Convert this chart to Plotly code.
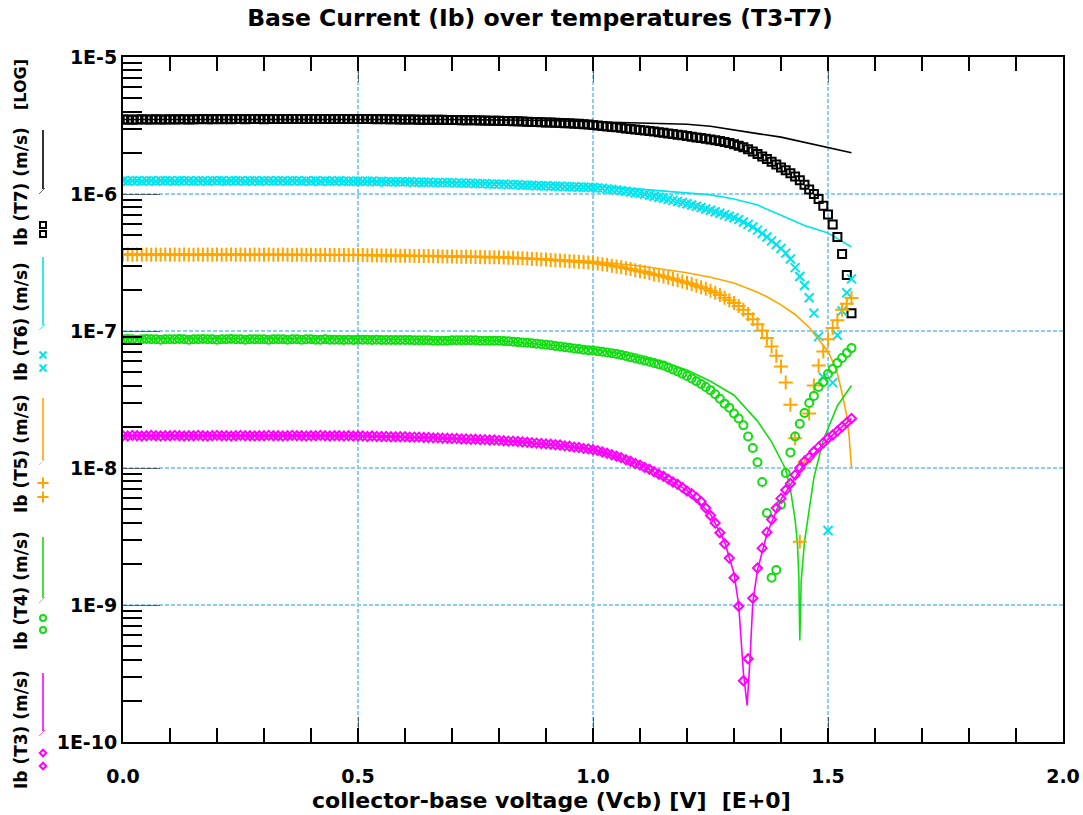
import plotly.graph_objects as go

# ---------------- data (currents in nA) ----------------
vcb = [
    0.00, 0.01, 0.02, 0.03, 0.04, 0.05, 0.06, 0.07, 0.08, 0.09,
    0.10, 0.11, 0.12, 0.13, 0.14, 0.15, 0.16, 0.17, 0.18, 0.19,
    0.20, 0.21, 0.22, 0.23, 0.24, 0.25, 0.26, 0.27, 0.28, 0.29,
    0.30, 0.31, 0.32, 0.33, 0.34, 0.35, 0.36, 0.37, 0.38, 0.39,
    0.40, 0.41, 0.42, 0.43, 0.44, 0.45, 0.46, 0.47, 0.48, 0.49,
    0.50, 0.51, 0.52, 0.53, 0.54, 0.55, 0.56, 0.57, 0.58, 0.59,
    0.60, 0.61, 0.62, 0.63, 0.64, 0.65, 0.66, 0.67, 0.68, 0.69,
    0.70, 0.71, 0.72, 0.73, 0.74, 0.75, 0.76, 0.77, 0.78, 0.79,
    0.80, 0.81, 0.82, 0.83, 0.84, 0.85, 0.86, 0.87, 0.88, 0.89,
    0.90, 0.91, 0.92, 0.93, 0.94, 0.95, 0.96, 0.97, 0.98, 0.99,
    1.00, 1.01, 1.02, 1.03, 1.04, 1.05, 1.06, 1.07, 1.08, 1.09,
    1.10, 1.11, 1.12, 1.13, 1.14, 1.15, 1.16, 1.17, 1.18, 1.19,
    1.20, 1.21, 1.22, 1.23, 1.24, 1.25, 1.26, 1.27, 1.28, 1.29,
    1.30, 1.31, 1.32, 1.33, 1.34, 1.35, 1.36, 1.37, 1.38, 1.39,
    1.40, 1.41, 1.42, 1.43, 1.44, 1.45, 1.46, 1.47, 1.48, 1.49,
    1.50, 1.51, 1.52, 1.53, 1.54, 1.55,
]

ib_t7_meas = [
    3500, 3500, 3490, 3500, 3510, 3500, 3500, 3510, 3500, 3500,
    3510, 3500, 3510, 3510, 3500, 3510, 3510, 3520, 3510, 3510,
    3520, 3510, 3520, 3510, 3520, 3520, 3510, 3520, 3520, 3520,
    3510, 3520, 3520, 3530, 3520, 3520, 3530, 3520, 3520, 3530,
    3520, 3520, 3530, 3520, 3520, 3530, 3520, 3520, 3520, 3530,
    3520, 3520, 3520, 3520, 3510, 3520, 3510, 3510, 3510, 3500,
    3500, 3500, 3500, 3490, 3490, 3490, 3480, 3480, 3480, 3470,
    3470, 3470, 3460, 3460, 3450, 3450, 3440, 3440, 3430, 3430,
    3420, 3410, 3410, 3400, 3390, 3380, 3370, 3360, 3350, 3340,
    3330, 3320, 3310, 3300, 3290, 3280, 3260, 3250, 3230, 3210,
    3190, 3165, 3140, 3115, 3090, 3065, 3040, 3010, 2985, 2960,
    2930, 2905, 2880, 2855, 2825, 2800, 2770, 2740, 2710, 2680,
    2650, 2620, 2590, 2560, 2530, 2500, 2470, 2440, 2400, 2360,
    2310, 2250, 2190, 2120, 2040, 1960, 1880, 1800, 1720, 1640,
    1560, 1490, 1420, 1340, 1260, 1170, 1080, 1000, 920, 820,
    710, 600, 485, 365, 256, 135,
]

ib_t6_meas = [
    1250, 1240, 1250, 1250, 1240, 1250, 1250, 1240, 1250, 1250,
    1250, 1240, 1250, 1250, 1250, 1240, 1250, 1250, 1240, 1250,
    1250, 1250, 1240, 1250, 1250, 1250, 1240, 1250, 1250, 1240,
    1250, 1250, 1240, 1250, 1250, 1240, 1250, 1250, 1240, 1250,
    1240, 1250, 1240, 1250, 1240, 1240, 1250, 1240, 1240, 1240,
    1240, 1240, 1240, 1240, 1230, 1240, 1230, 1230, 1230, 1230,
    1230, 1230, 1220, 1220, 1220, 1220, 1210, 1210, 1210, 1210,
    1210, 1200, 1200, 1200, 1200, 1190, 1190, 1190, 1180, 1180,
    1180, 1180, 1170, 1170, 1170, 1160, 1160, 1160, 1150, 1150,
    1150, 1140, 1140, 1140, 1130, 1130, 1130, 1120, 1120, 1120,
    1115, 1108, 1100, 1090, 1080, 1070, 1058, 1046, 1034, 1022,
    1010, 995, 980, 962, 946, 930, 914, 898, 882, 866,
    850, 832, 814, 796, 778, 760, 742, 724, 706, 688,
    670, 650, 625, 600, 575, 545, 515, 485, 455, 428,
    400, 370, 335, 290, 250, 215, 175, 135, 91, 46,
    3.5, 42, 93, 140, 190, 240,
]

ib_t5_meas = [
    360, 362, 360, 361, 360, 362, 360, 361, 360, 362,
    360, 361, 360, 362, 360, 360, 361, 360, 362, 360,
    361, 360, 360, 362, 360, 361, 360, 360, 361, 360,
    360, 361, 360, 360, 361, 360, 359, 360, 360, 359,
    360, 359, 359, 360, 359, 359, 358, 359, 358, 358,
    358, 358, 357, 357, 356, 356, 356, 355, 355, 354,
    354, 354, 353, 353, 352, 352, 351, 351, 350, 350,
    350, 349, 349, 348, 348, 347, 347, 346, 346, 345,
    345, 344, 343, 342, 340, 339, 338, 336, 335, 333,
    332, 330, 329, 327, 325, 323, 322, 320, 318, 316,
    314, 311, 307, 304, 300, 296, 292, 287, 283, 278,
    273, 269, 264, 259, 255, 250, 245, 240, 235, 230,
    225, 220, 214, 209, 203, 197, 190, 183, 175, 168,
    160, 152, 143, 133, 122, 112, 101, 89, 77, 66,
    55, 42, 29, 16.5, 2.9, 11, 25, 40, 56, 71,
    87, 105, 120, 143, 158, 174,
]

ib_t4_meas = [
    87, 87.5, 87, 86.5, 87, 87.5, 87, 87, 86.5, 87,
    87, 87, 87.5, 87, 86.5, 87, 87, 87.5, 87, 87,
    86.5, 87, 87, 87.5, 87, 87, 86.5, 87, 87, 87,
    87, 86.5, 87, 87, 87, 86.5, 87, 87, 86.5, 87,
    87, 86.5, 86.5, 87, 86.5, 86.5, 86.5, 86, 86.5, 86,
    86.5, 86.5, 86.5, 86, 86.5, 86, 86, 86, 86, 86,
    86, 86, 85.5, 85.5, 85.5, 85.5, 85, 85, 85, 85,
    85.5, 85.5, 85.5, 85.5, 85.5, 85.5, 85, 85, 85, 85,
    85, 84.5, 84, 83.5, 83, 82.5, 82, 81.3, 80.6, 80,
    79.3, 78.6, 77.8, 77, 76.2, 75.4, 74.6, 73.8, 73, 72.5,
    72, 71.3, 70.5, 69.7, 68.9, 68, 66.8, 65.6, 64.4, 63.2,
    62, 60.8, 59.6, 58.4, 57.2, 56, 54.2, 52.4, 50.6, 48.8,
    47, 45, 43, 41, 39, 37, 34.5, 32, 29.5, 27.5,
    25, 23, 20.5, 17, 14, 11, 7.9, 4.7, 1.58, 1.8,
    5.4, 9.2, 13, 17, 21, 25.2, 29.8, 33.6, 39, 42.5,
    48.5, 52.8, 58.4, 63.5, 69, 75,
]

ib_t3_meas = [
    17.2, 17.1, 17.3, 17.2, 17.1, 17.2, 17.3, 17.2, 17.1, 17.2,
    17.2, 17.3, 17.2, 17.1, 17.2, 17.2, 17.3, 17.2, 17.1, 17.2,
    17.3, 17.2, 17.2, 17.1, 17.2, 17.3, 17.2, 17.2, 17.1, 17.2,
    17.2, 17.3, 17.2, 17.2, 17.1, 17.2, 17.3, 17.2, 17.2, 17.1,
    17.2, 17.2, 17.3, 17.2, 17.1, 17.2, 17.2, 17.1, 17.2, 17.1,
    17.1, 17.1, 17.0, 17.1, 17.0, 17.0, 17.0, 16.9, 16.9, 16.9,
    16.9, 16.8, 16.8, 16.8, 16.7, 16.7, 16.6, 16.6, 16.5, 16.5,
    16.4, 16.4, 16.3, 16.3, 16.2, 16.2, 16.1, 16.1, 16.0, 16.0,
    15.9, 15.8, 15.7, 15.7, 15.6, 15.5, 15.4, 15.3, 15.2, 15.1,
    15.0, 14.9, 14.8, 14.7, 14.5, 14.4, 14.2, 14.1, 13.9, 13.8,
    13.6, 13.4, 13.1, 12.8, 12.5, 12.2, 11.9, 11.5, 11.2, 10.8,
    10.5, 10.1, 9.8, 9.4, 9.0, 8.7, 8.3, 7.9, 7.6, 7.2,
    6.8, 6.5, 6.1, 5.7, 5.1, 4.5, 3.97, 3.37, 2.8, 2.2,
    1.58, 0.98, 0.28, 0.405, 1.12, 1.86, 2.6, 3.4, 4.2, 5.1,
    6.0, 6.9, 7.7, 8.9, 10.0, 11.2, 12.0, 13.2, 14.2, 15.3,
    16.5, 17.4, 18.6, 20.0, 21.5, 23.0,
]

# simulated curves (solid lines)
sim_t7_v = [0.0, 0.25, 0.5, 0.7, 0.9, 1.0, 1.1, 1.2, 1.25, 1.3, 1.35, 1.4, 1.45, 1.5, 1.55]
sim_t7_i = [3500, 3510, 3520, 3500, 3440, 3380, 3310, 3230, 3120, 2920, 2760, 2600, 2390, 2200, 2000]

sim_t6_v = [0.0, 0.5, 0.8, 0.9, 1.0, 1.1, 1.2, 1.25, 1.3, 1.35, 1.4, 1.45, 1.5, 1.55]
sim_t6_i = [1245, 1245, 1200, 1170, 1135, 1085, 1025, 985, 920, 830, 700, 590, 520, 410]

sim_t5_v = [0.0, 0.5, 0.8, 1.0, 1.1, 1.2, 1.25, 1.3, 1.35, 1.37, 1.4, 1.43, 1.46, 1.48,
            1.5, 1.51, 1.52, 1.53, 1.54, 1.545, 1.55]
sim_t5_i = [365, 362, 350, 322, 298, 266, 247, 224, 192, 178, 155, 132, 106, 87,
            71, 60, 49, 35, 24, 17, 10]

sim_t4_v = [0.0, 0.5, 0.8, 1.0, 1.1, 1.15, 1.2, 1.25, 1.3, 1.35, 1.38, 1.4, 1.41, 1.42,
            1.43, 1.435, 1.438, 1.44, 1.443, 1.45, 1.455, 1.47, 1.49, 1.52, 1.55]
sim_t4_i = [88, 87.5, 85, 74, 64, 59, 52, 43, 34, 22, 15.5, 11.5, 9.8, 7,
            4.2, 2.8, 1.6, 0.55, 1.5, 2.9, 3.8, 8.5, 16, 28.5, 40]

sim_t3_v = [0.0, 0.5, 0.8, 1.0, 1.1, 1.2, 1.25, 1.28, 1.3, 1.31, 1.32, 1.328, 1.334,
            1.34, 1.35, 1.37, 1.4, 1.45, 1.5, 1.55]
sim_t3_i = [17.2, 17.2, 16.0, 13.7, 10.6, 6.9, 4.6, 2.9, 1.7, 1.0, 0.32, 0.185, 0.4,
            1.05, 1.8, 3.3, 5.9, 10.8, 16.2, 23.0]

labels = ["Ib (T7) (m/s)", "Ib (T6) (m/s)", "Ib (T5) (m/s)", "Ib (T4) (m/s)", "Ib (T3) (m/s)"]
x_ticks = [0.0, 0.5, 1.0, 1.5, 2.0]
x_ticktext = ["0.0", "0.5", "1.0", "1.5", "2.0"]
y_ticks = [1e-10, 1e-9, 1e-8, 1e-7, 1e-6, 1e-5]
y_ticktext = ["1E-10", "1E-9", "1E-8", "1E-7", "1E-6", "1E-5"]

# ---------------- styling ----------------
W, H = 1083, 815
PL, PR, PT, PB = 123, 1063, 57, 742   # plot area in pixels
FONT = "DejaVu Sans"
GRID = "#8ccdf5"


def fx(px):
    return px / W


def fy(py):
    return 1 - py / H


colors = ["#000000", "#00e4ee", "#ffa500", "#11dd11", "#ff00ff"]
symbols = ["square-open", "x-thin", "cross-thin", "circle-open", "diamond-open"]
msizes = [8, 9, 10, 8, 7]

meas = [ib_t7_meas, ib_t6_meas, ib_t5_meas, ib_t4_meas, ib_t3_meas]
sims = [(sim_t7_v, sim_t7_i), (sim_t6_v, sim_t6_i), (sim_t5_v, sim_t5_i),
        (sim_t4_v, sim_t4_i), (sim_t3_v, sim_t3_i)]

NA = 1e-9

fig = go.Figure()

for k in range(5):
    sv, si = sims[k]
    fig.add_trace(go.Scatter(
        x=sv, y=[v * NA for v in si], mode="lines",
        line=dict(color=colors[k], width=1.6),
        showlegend=False, hoverinfo="skip", xaxis="x", yaxis="y"))

for k in range(5):
    fig.add_trace(go.Scatter(
        x=vcb, y=[v * NA for v in meas[k]], mode="markers",
        marker=dict(symbol=symbols[k], size=msizes[k], color=colors[k],
                    line=dict(color=colors[k], width=2)),
        showlegend=False, hoverinfo="skip", xaxis="x", yaxis="y"))

# ---------------- vertical legend in the left margin (pixel units) ----------------
leg_text_c = [187, 322, 454, 591, 730]
leg_mark_y = [(225, 234), (355, 368), (483, 497), (618, 630), (753, 766)]
leg_line_y = [(130, 189), (257, 325), (398, 460), (537, 598), (673, 731)]
LX = 43
for k in range(5):
    y0, y1 = leg_line_y[k]
    fig.add_trace(go.Scatter(
        x=[LX, LX], y=[y0, y1], mode="lines",
        line=dict(color=colors[k], width=1.6),
        showlegend=False, hoverinfo="skip", xaxis="x2", yaxis="y2", cliponaxis=False))
    fig.add_trace(go.Scatter(
        x=[LX - 4, LX + 2], y=[y1 + 5, y1 - 1], mode="lines",
        line=dict(color=colors[k], width=1), opacity=0.6,
        showlegend=False, hoverinfo="skip", xaxis="x2", yaxis="y2", cliponaxis=False))
    fig.add_trace(go.Scatter(
        x=[LX, LX], y=list(leg_mark_y[k]), mode="markers",
        marker=dict(symbol=symbols[k], size=msizes[k] - 2, color=colors[k],
                    line=dict(color=colors[k], width=2)),
        showlegend=False, hoverinfo="skip", xaxis="x2", yaxis="y2", cliponaxis=False))

annotations = []
for k in range(5):
    annotations.append(dict(
        text=labels[k], x=fx(21), y=fy(leg_text_c[k]), xref="paper", yref="paper",
        xanchor="center", yanchor="middle", textangle=-90, showarrow=False,
        font=dict(family=FONT, size=17, color="black", weight="bold")))
annotations.append(dict(
    text="[LOG]", x=fx(21), y=fy(85), xref="paper", yref="paper",
    xanchor="center", yanchor="middle", textangle=-90, showarrow=False,
    font=dict(family=FONT, size=16, color="black", weight="bold")))
annotations.append(dict(
    text="collector-base voltage (Vcb) [V]\u00a0\u00a0[E+0]", x=fx(551), y=fy(800),
    xref="paper", yref="paper", xanchor="center", yanchor="middle", showarrow=False,
    font=dict(family=FONT, size=22, color="black", weight="bold")))

y_minor = [m * 10.0 ** e for e in range(-10, -5) for m in range(2, 10)]

fig.update_layout(
    width=W, height=H,
    margin=dict(l=0, r=0, t=0, b=0),
    paper_bgcolor="white", plot_bgcolor="white",
    title=dict(text="Base Current (Ib) over temperatures (T3-T7)",
               x=fx(540), xanchor="center", xref="paper",
               y=fy(18), yanchor="middle", yref="container",
               font=dict(family=FONT, size=23.5, color="black", weight="bold")),
    xaxis=dict(domain=[fx(PL), fx(PR)], range=[0, 2], anchor="y",
               tickvals=x_ticks, ticktext=x_ticktext,
               ticks="inside", ticklen=25, tickwidth=1, tickcolor="rgba(0,0,0,0.55)",
               showline=True, linewidth=2, linecolor="black", mirror="ticks",
               showgrid=True, gridcolor=GRID, gridwidth=1.5, griddash="4px,2px",
               zeroline=False, automargin=False, ticklabelstandoff=16,
               ticklabeloverflow="allow",
               minor=dict(dtick=0.1, tick0=0, ticks="inside", ticklen=14,
                          tickwidth=1.5, tickcolor="black", showgrid=False),
               tickfont=dict(family=FONT, size=19, color="black", weight="bold")),
    yaxis=dict(domain=[fy(PB), fy(PT)], type="log", range=[-10, -5], anchor="x",
               tickvals=y_ticks, ticktext=y_ticktext,
               ticks="inside", ticklen=37, tickwidth=1, tickcolor="rgba(0,0,0,0.55)",
               showline=True, linewidth=2, linecolor="black", mirror=True,
               showgrid=True, gridcolor=GRID, gridwidth=1.5, griddash="4px,2px",
               zeroline=False, automargin=False, ticklabelstandoff=0,
               ticklabeloverflow="allow",
               minor=dict(tickmode="array", tickvals=y_minor, ticks="inside", ticklen=19,
                          tickwidth=1.5, tickcolor="black", showgrid=False),
               tickfont=dict(family=FONT, size=19, color="black", weight="bold")),
    xaxis2=dict(domain=[0, 110 / W], range=[0, 110], anchor="y2", visible=False,
                fixedrange=True),
    yaxis2=dict(domain=[0, 1], range=[H, 0], anchor="x2", visible=False,
                fixedrange=True),
    annotations=annotations,
    showlegend=False,
)

fig.write_html(
    "out.html",
    config={"displayModeBar": False},
    post_script="document.body.style.margin='0';document.body.style.overflow='hidden';",
)
